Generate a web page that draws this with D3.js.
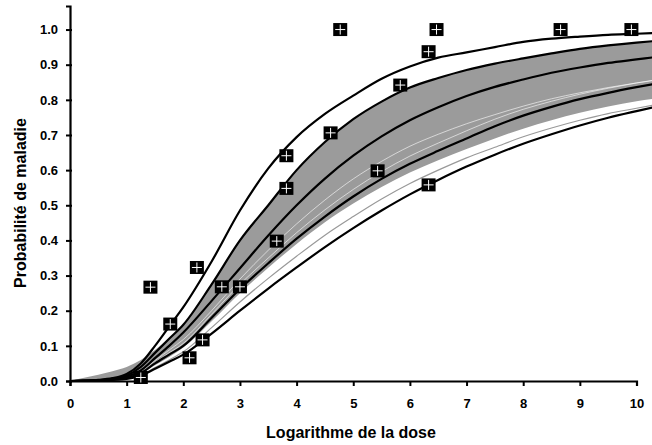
<!DOCTYPE html>
<html>
<head>
<meta charset="utf-8">
<script src="https://cdnjs.cloudflare.com/ajax/libs/d3/7.8.5/d3.min.js"></script>
<style>
  body { margin: 0; background: #fff; }
  svg text { font-family: "Liberation Sans", Arial, Helvetica, sans-serif; font-weight: bold; fill: #000; }
</style>
</head>
<body>
<script>
const width = 652;
const height = 445;

// log dose grid shared by all curves
const doses = [0, 0.25, 0.5, 0.75, 1, 1.25, 1.5, 1.75, 2, 2.5, 3, 3.5, 4, 4.5, 5, 5.5, 6, 6.5, 7, 7.5, 8, 8.5, 9, 9.5, 10, 10.3];

// black reference curves, top to bottom
const curveUpper = [0, 0.001, 0.003, 0.008, 0.02, 0.05, 0.10, 0.155, 0.21, 0.34, 0.485, 0.605, 0.694, 0.76, 0.812, 0.86, 0.895, 0.92, 0.935, 0.95, 0.965, 0.974, 0.98, 0.985, 0.988, 0.99];
const curveBandHigh = [0, 0.001, 0.002, 0.006, 0.015, 0.04, 0.08, 0.12, 0.16, 0.275, 0.40, 0.50, 0.60, 0.68, 0.745, 0.795, 0.835, 0.862, 0.885, 0.903, 0.918, 0.932, 0.945, 0.955, 0.963, 0.967];
const curveMedian = [0, 0.0005, 0.002, 0.005, 0.012, 0.03, 0.065, 0.10, 0.138, 0.228, 0.321, 0.414, 0.50, 0.576, 0.641, 0.696, 0.742, 0.779, 0.811, 0.837, 0.858, 0.877, 0.892, 0.905, 0.915, 0.921];
const curveBandLow = [0, 0.0003, 0.001, 0.004, 0.009, 0.022, 0.05, 0.075, 0.10, 0.18, 0.262, 0.335, 0.405, 0.468, 0.525, 0.575, 0.618, 0.655, 0.69, 0.725, 0.755, 0.78, 0.802, 0.82, 0.836, 0.845];
const curveLower = [0, 0.0002, 0.001, 0.003, 0.006, 0.015, 0.035, 0.055, 0.075, 0.135, 0.20, 0.263, 0.323, 0.381, 0.435, 0.485, 0.531, 0.572, 0.61, 0.644, 0.675, 0.702, 0.727, 0.749, 0.768, 0.779];

// envelope of the grey simulated curves
const simTop = [0, 0.009, 0.018, 0.028, 0.04, 0.06, 0.088, 0.122, 0.16, 0.275, 0.40, 0.50, 0.60, 0.68, 0.745, 0.795, 0.835, 0.862, 0.885, 0.903, 0.918, 0.932, 0.945, 0.955, 0.963, 0.967];
const simBottom = [0, 0.001, 0.003, 0.006, 0.012, 0.025, 0.045, 0.068, 0.095, 0.17, 0.25, 0.322, 0.39, 0.452, 0.505, 0.552, 0.593, 0.628, 0.66, 0.69, 0.718, 0.742, 0.763, 0.781, 0.796, 0.803];
const simOutlier = [0, 0.0002, 0.001, 0.003, 0.007, 0.017, 0.038, 0.06, 0.083, 0.152, 0.225, 0.292, 0.355, 0.415, 0.468, 0.518, 0.562, 0.60, 0.635, 0.665, 0.695, 0.72, 0.742, 0.761, 0.776, 0.785];
const simLightA = [0, 0.0005, 0.002, 0.005, 0.011, 0.026, 0.058, 0.088, 0.118, 0.2, 0.29, 0.372, 0.447, 0.515, 0.575, 0.625, 0.668, 0.702, 0.732, 0.758, 0.782, 0.803, 0.82, 0.835, 0.848, 0.855];
const simLightB = [0, 0.0004, 0.0015, 0.0045, 0.01, 0.024, 0.053, 0.08, 0.107, 0.19, 0.275, 0.35, 0.422, 0.487, 0.545, 0.596, 0.64, 0.677, 0.712, 0.745, 0.773, 0.796, 0.816, 0.833, 0.848, 0.856];

// observed points
const obsDose = [1.25, 1.42, 1.77, 2.11, 2.24, 2.34, 2.68, 3.0, 3.65, 3.82, 3.82, 4.6, 4.77, 5.43, 5.83, 6.33, 6.33, 6.47, 8.66, 9.91];
const obsProb = [0.01, 0.267, 0.162, 0.066, 0.323, 0.117, 0.268, 0.268, 0.398, 0.548, 0.641, 0.706, 1.0, 0.598, 0.842, 0.937, 0.558, 1.0, 1.0, 1.0];

const xTicks = d3.range(0, 11);
const yTicks = [0, 0.1, 0.2, 0.3, 0.4, 0.5, 0.6, 0.7, 0.8, 0.9, 1.0];

function drawChart() {
    const x = d3.scaleLinear().domain([0, 10]).range([70, 636.5]);
    const y = d3.scaleLinear().domain([0, 1.067]).range([381, 6]);

    const svg = d3.select(document.body).append("svg")
        .attr("width", width)
        .attr("height", height);

    const line = d3.line()
        .x((d, i) => x(doses[i]))
        .y(d => y(d))
        .curve(d3.curveMonotoneX);

    const band = d3.area()
        .x((d, i) => x(doses[i]))
        .y0((d, i) => y(simBottom[i]))
        .y1(d => y(d))
        .curve(d3.curveMonotoneX);

    svg.append("path")
        .attr("d", band(simTop))
        .attr("fill", "#9b9b9b");

    // light streaks inside the band
    [simLightA, simLightB].forEach(s => {
        svg.append("path")
            .attr("d", line(s))
            .attr("fill", "none")
            .attr("stroke", "#fff")
            .attr("stroke-opacity", 0.75)
            .attr("stroke-width", 0.8);
    });

    svg.append("path")
        .attr("d", line(simOutlier))
        .attr("fill", "none")
        .attr("stroke", "#999")
        .attr("stroke-width", 1.2);

    [curveUpper, curveBandHigh, curveMedian, curveBandLow, curveLower].forEach(c => {
        svg.append("path")
            .attr("d", line(c))
            .attr("fill", "none")
            .attr("stroke", "#000")
            .attr("stroke-width", 2.2);
    });

    // axes
    const xAxis = svg.append("g")
        .attr("transform", `translate(0,${y(0)})`)
        .call(d3.axisBottom(x).tickValues(xTicks).tickFormat(d3.format("d"))
            .tickSizeOuter(0).tickSize(5).tickPadding(13));
    xAxis.select(".domain").attr("stroke-width", 2.2);
    xAxis.selectAll(".tick line").attr("stroke-width", 2);
    xAxis.selectAll("text").attr("font-size", 13).attr("font-family", null);

    const yAxis = svg.append("g")
        .attr("transform", `translate(${x(0)},0)`)
        .call(d3.axisLeft(y).tickValues(yTicks).tickFormat(d3.format(".1f"))
            .tickSizeOuter(0).tickSize(4).tickPadding(8));
    yAxis.select(".domain").attr("stroke-width", 2.2);
    yAxis.selectAll(".tick line").attr("x1", 2).attr("stroke-width", 2);
    yAxis.selectAll("text").attr("font-size", 13).attr("font-family", null);

    // observed points: black squares with a white cross
    const pts = svg.append("g")
        .selectAll("g")
        .data(obsDose.map((d, i) => [d, obsProb[i]]))
        .join("g")
        .attr("transform", d => `translate(${x(d[0])},${y(d[1])})`);
    pts.append("rect")
        .attr("x", -7).attr("y", -6.5)
        .attr("width", 14).attr("height", 13)
        .attr("fill", "#000");
    pts.append("path")
        .attr("d", "M-5,0H5M0,-5V5")
        .attr("stroke", "#fff")
        .attr("stroke-width", 1);

    svg.append("text")
        .attr("x", 351)
        .attr("y", 438)
        .attr("text-anchor", "middle")
        .attr("font-size", 16)
        .text("Logarithme de la dose");

    svg.append("text")
        .attr("transform", "translate(26,203) rotate(-90)")
        .attr("text-anchor", "middle")
        .attr("font-size", 16)
        .text("Probabilité de maladie");
}

drawChart();
</script>
</body>
</html>
